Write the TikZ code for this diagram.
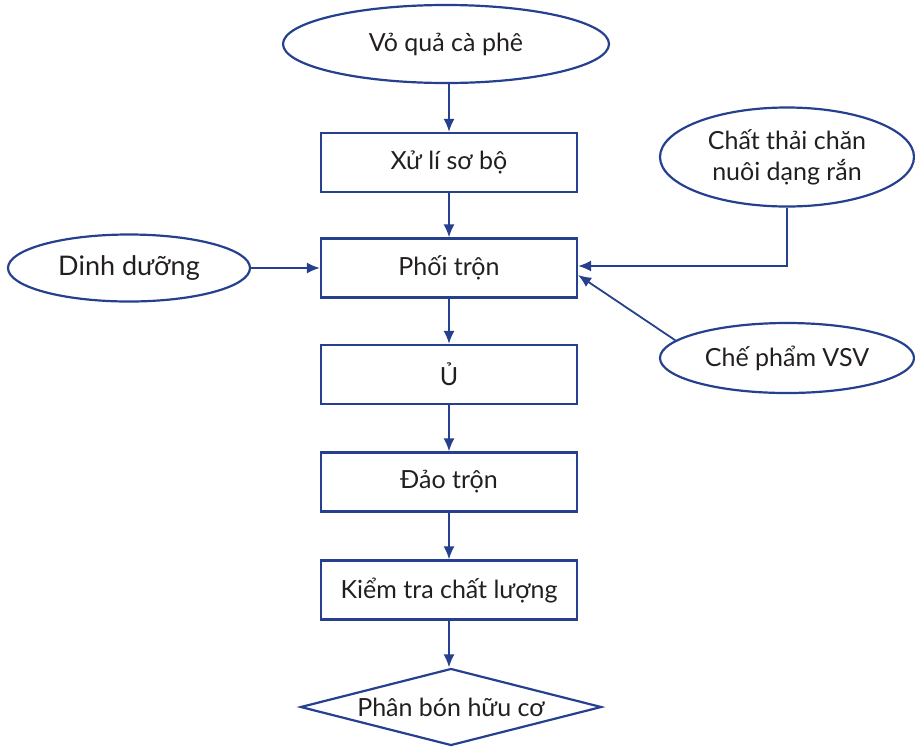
\documentclass[tikz,border=0pt]{standalone}
\usepackage{fontspec}
\setmainfont{Lato}
\usetikzlibrary{shapes.geometric,arrows.meta,calc}
\definecolor{lineblue}{HTML}{25408F}
\definecolor{txt}{HTML}{231F20}
\begin{document}
\begin{tikzpicture}[x=1pt,y=-1pt,
 every node/.style={font=\fontsize{25}{31}\selectfont, text=txt},
 stepbox/.style={draw=lineblue, line width=2.2pt, minimum width=256pt, minimum height=59pt, inner sep=0pt},
 oval/.style={ellipse, draw=lineblue, line width=2.2pt, inner sep=0pt},
 conn/.style={draw=lineblue, line width=1.8pt, -{Latex[length=13pt,width=11pt]}}]
\useasboundingbox (0,0) rectangle (915,748);
\node[oval, minimum width=326pt, minimum height=78pt] (vo) at (446,44) {Vỏ quả cà phê};
\node[stepbox] (xl) at (449,162.5) {Xử lí sơ bộ};
\node[stepbox] (pt) at (449,268) {Phối trộn};
\node[stepbox] (u) at (449,374.5) {Ủ};
\node[stepbox] (dt) at (449,482) {Đảo trộn};
\node[stepbox] (kt) at (449,590) {Kiểm tra chất lượng};
\node[diamond, draw=lineblue, line width=2.2pt, minimum width=301pt, minimum height=77pt, aspect=3.9, inner sep=0pt] (pb) at (451,707) {Phân bón hữu cơ};
\node[oval, minimum width=242pt, minimum height=67pt, font=\fontsize{27}{31}\selectfont] (dd) at (129,268) {Dinh dưỡng};
\node[oval, minimum width=254pt, minimum height=99pt, align=center] (ct) at (787,157) {Chất thải chăn\\nuôi dạng rắn};
\node[oval, minimum width=254pt, minimum height=70pt] (vsv) at (787,358) {Chế phẩm VSV};
\draw[conn] (xl.north |- vo.south) -- (xl.north);
\draw[conn] (xl) -- (pt);
\draw[conn] (pt) -- (u);
\draw[conn] (u) -- (dt);
\draw[conn] (dt) -- (kt);
\draw[conn] (kt.south) -- (kt.south |- pb.north);
\draw[conn] (dd) -- (pt);
\draw[conn] (ct.south) |- ($(pt.east)+(0,-2)$);
\draw[conn] (vsv.171) -- ($(pt.east)+(0,7)$);
\end{tikzpicture}
\end{document}
